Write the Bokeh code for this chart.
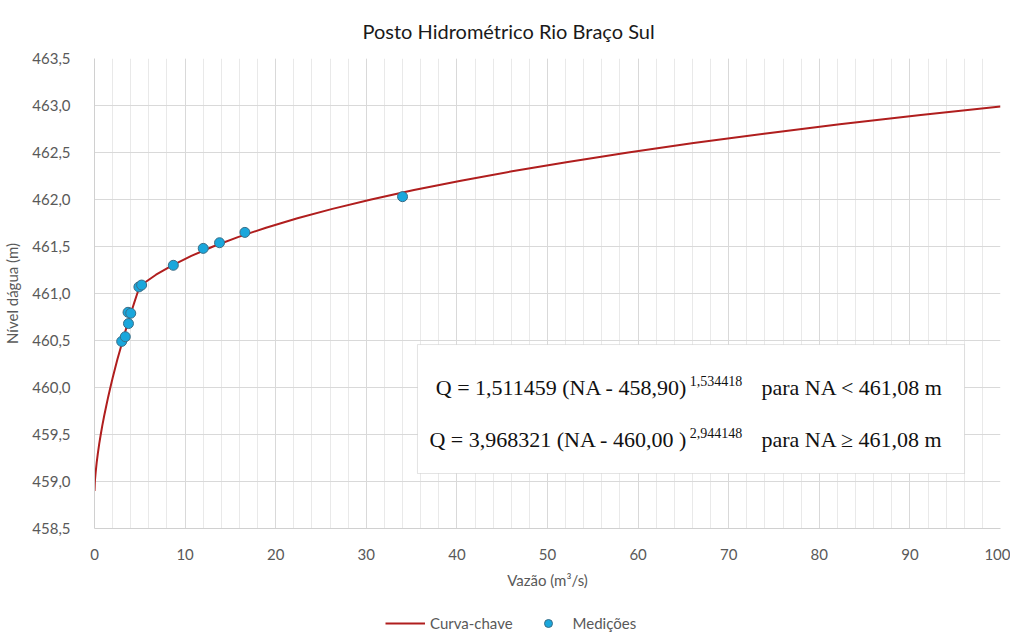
from bokeh.plotting import figure
from bokeh.layouts import column
from bokeh.models import (Range1d, FixedTicker, CustomJSTickFormatter, BoxAnnotation,
                          Label, Legend, LegendItem, ColumnDataSource)
from bokeh.embed import file_html
from bokeh.resources import INLINE

# ---- data ----
curve_na = [458.90, 458.95, 459.00, 459.10, 459.20, 459.30, 459.40, 459.50, 459.60, 459.70,
            459.80, 459.90, 460.00, 460.10, 460.20, 460.30, 460.40, 460.50, 460.60, 460.70,
            460.80, 460.90, 461.00, 461.08, 461.20, 461.30, 461.40, 461.50, 461.60, 461.70,
            461.80, 461.90, 462.00, 462.10, 462.20, 462.30, 462.40, 462.50, 462.60, 462.70,
            462.80, 462.90, 462.99]
curve_q = [0.00, 0.02, 0.04, 0.13, 0.24, 0.37, 0.52, 0.69, 0.87, 1.07,
           1.29, 1.51, 1.75, 2.00, 2.26, 2.53, 2.82, 3.11, 3.41, 3.72,
           4.05, 4.38, 4.72, 5.00, 6.79, 8.59, 10.69, 13.09, 15.83, 18.93,
           22.40, 26.26, 30.54, 35.26, 40.44, 46.09, 52.24, 58.91, 66.12, 73.90,
           82.25, 91.20, 100.00]

meas_q = [3.0, 3.4, 3.75, 3.7, 4.0, 4.9, 5.2, 8.7, 12.0, 13.8, 16.6, 34.0]
meas_na = [460.49, 460.54, 460.68, 460.80, 460.79, 461.07, 461.09, 461.30, 461.48, 461.54, 461.65, 462.03]

x_ticks = [0, 10, 20, 30, 40, 50, 60, 70, 80, 90, 100]
x_minor = list(range(0, 101, 2))
y_ticks = [458.5, 459.0, 459.5, 460.0, 460.5, 461.0, 461.5, 462.0, 462.5, 463.0, 463.5]

title_text = "Posto Hidrométrico Rio Braço Sul"
x_title = "Vazão (m³/s)"
y_title = "Nível dágua (m)"
series_names = ["Curva-chave", "Medições"]
eq1_main, eq1_exp, eq1_cond = "Q = 1,511459 (NA - 458,90)", "1,534418", "para NA < 461,08 m"
eq2_main, eq2_exp, eq2_cond = "Q = 3,968321 (NA - 460,00 )", "2,944148", "para NA ≥ 461,08 m"

FONT = "Lato"
GRAY = "#595959"
LINE_STYLE = dict(line_color="#B01E1E", line_width=2)
PT_STYLE = dict(size=10, fill_color="#1AA7DC", line_color="#3B6E87", line_width=1)

p = figure(frame_width=906, frame_height=470, output_backend="svg", toolbar_location=None,
           x_range=Range1d(0, 100), y_range=Range1d(458.5, 463.5),
           min_border_left=87, min_border_right=10, min_border_top=57, min_border_bottom=80)

p.title.text = title_text
p.title.align = "left"
p.title.offset = 268
p.title.standoff = 32
p.title.text_font = FONT
p.title.text_font_size = "20px"
p.title.text_font_style = "normal"
p.title.text_color = "#1a1a1a"

p.outline_line_color = None

p.xaxis.ticker = FixedTicker(ticks=x_ticks, minor_ticks=x_minor)
p.yaxis.ticker = FixedTicker(ticks=y_ticks)
p.yaxis.formatter = CustomJSTickFormatter(code="return tick.toFixed(1).replace('.', ',');")

for ax in (p.xaxis[0], p.yaxis[0]):
    ax.major_tick_line_color = None
    ax.minor_tick_line_color = None
    ax.axis_line_color = "#D0D0D0"
    ax.major_label_text_font = FONT
    ax.major_label_text_font_size = "15px"
    ax.major_label_text_color = GRAY
    ax.axis_label_text_font = FONT
    ax.axis_label_text_font_size = "15px"
    ax.axis_label_text_font_style = "normal"
    ax.axis_label_text_color = GRAY

p.xaxis.axis_label = x_title
p.yaxis.axis_label = y_title
p.xaxis.major_label_standoff = 14
p.xaxis.axis_label_standoff = 8
p.yaxis.major_label_standoff = 18
p.yaxis.axis_label_standoff = 8

p.xgrid.grid_line_color = "#D9D9D9"
p.xgrid.minor_grid_line_color = "#E9E9E9"
p.ygrid.grid_line_color = "#D9D9D9"

src_c = ColumnDataSource(dict(q=curve_q, na=curve_na))
src_m = ColumnDataSource(dict(q=meas_q, na=meas_na))
p.line("q", "na", source=src_c, **LINE_STYLE)
p.scatter("q", "na", source=src_m, **PT_STYLE)

# equation box
box = BoxAnnotation(left=35.65, right=96.03, top=460.457, bottom=459.085,
                    fill_color="white", fill_alpha=1.0, line_color="#A6A6A6", line_width=1,
                    level="annotation")
p.add_layout(box)

SERIF = "Liberation Serif"
for (main, exp, cond, ym, ye) in [(eq1_main, eq1_exp, eq1_cond, 460.000, 460.065),
                                   (eq2_main, eq2_exp, eq2_cond, 459.447, 459.512)]:
    p.add_layout(Label(x=65.45, y=ym, text=main, text_align="right", text_baseline="middle",
                       text_font=SERIF, text_font_size="22px", text_color="#111111"))
    p.add_layout(Label(x=65.70, y=ye, text=exp, text_align="left", text_baseline="middle",
                       text_font=SERIF, text_font_size="14px", text_color="#111111"))
    p.add_layout(Label(x=73.62, y=ym, text=cond, text_align="left", text_baseline="middle",
                       text_font=SERIF, text_font_size="22px", text_color="#111111"))

# legend strip below the chart (separate figure so the legend is never clipped);
# the same series are drawn there but fall outside its view, only the legend shows
p2 = figure(width=1003, height=26, output_backend="svg", toolbar_location=None,
            x_axis_location=None, y_axis_location=None, min_border=0,
            x_range=Range1d(0, 1), y_range=Range1d(0, 1))
p2.outline_line_color = None
p2.xgrid.visible = False
p2.ygrid.visible = False
r_line2 = p2.line("q", "na", source=src_c, **LINE_STYLE)
r_pts2 = p2.scatter("q", "na", source=src_m, **PT_STYLE)
legend = Legend(items=[LegendItem(label=series_names[0], renderers=[r_line2]),
                       LegendItem(label=series_names[1], renderers=[r_pts2])],
                orientation="horizontal", location=(291, 1),
                label_text_font=FONT, label_text_font_size="15px", label_text_color=GRAY,
                border_line_color=None, background_fill_alpha=0,
                glyph_width=40, glyph_height=20, spacing=15, padding=2, margin=0)
p2.add_layout(legend)

layout = column(p, p2, spacing=0)
open("out.html", "w").write(file_html(layout, INLINE))
